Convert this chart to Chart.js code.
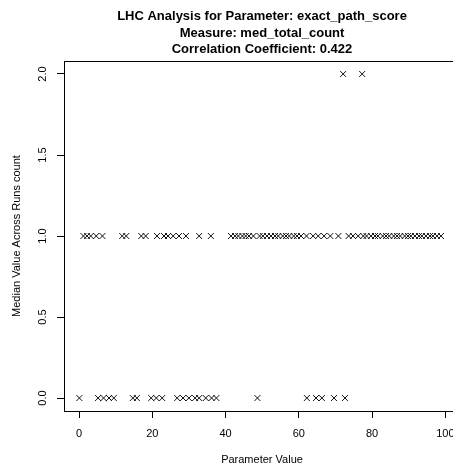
<!DOCTYPE html>
<html>
<head>
<meta charset="utf-8">
<script src="https://cdn.jsdelivr.net/npm/chart.js@4/dist/chart.umd.min.js"></script>
<style>
  html, body { margin: 0; padding: 0; background: #fff; overflow: hidden; }
  #wrap { position: relative; width: 480px; height: 469px; }
</style>
</head>
<body>
<div id="wrap"><canvas id="lhc-plot"></canvas></div>
<script>
// parameter values, grouped by the median count they landed on
const xAtZero = [0.1, 5.2, 6.7, 8.2, 9.5, 14.7, 15.8, 19.7, 21.1, 22.7, 26.8, 28.4, 30.0,
  31.7, 32.8, 34.6, 36.2, 37.5, 48.7, 62.2, 64.7, 66.3, 69.6, 72.6];
const xAtOne = [1.2, 2.2, 3.2, 4.7, 6.4, 11.8, 12.9, 17.0, 18.2, 21.3, 23.2, 24.3, 25.7,
  27.3, 29.2, 32.8, 36.0, 41.5, 42.6, 43.5, 44.6, 45.5, 46.4, 47.6, 49.3, 50.2, 51.3,
  52.4, 53.5, 54.4, 55.6, 56.5, 57.4, 58.6, 59.5, 60.6, 62.1, 63.9, 65.3, 66.9, 68.6,
  70.8, 73.6, 74.8, 76.2, 77.6, 78.5, 79.7, 80.8, 81.6, 82.9, 83.8, 84.7, 85.9, 86.8,
  87.7, 88.9, 89.8, 90.6, 91.7, 92.8, 93.6, 94.7, 95.8, 96.6, 97.7, 98.8];
const xAtTwo = [72.1, 77.3];

const xTicks = [0, 20, 40, 60, 80, 100];
const yTicks = [0, 0.5, 1, 1.5, 2];

const titleLines = [
  "LHC Analysis for Parameter: exact_path_score",
  "Measure: med_total_count",
  "Correlation Coefficient: 0.422",
];

const points = [
  ...xAtZero.map((x) => ({ x, y: 0 })),
  ...xAtOne.map((x) => ({ x, y: 1 })),
  ...xAtTwo.map((x) => ({ x, y: 2 })),
];

Chart.defaults.font.family = "'Liberation Sans', Arial, Helvetica, sans-serif";
Chart.defaults.font.size = 11;
Chart.defaults.color = "#000";

// R draws a full box round the plot region
const boxPlugin = {
  id: "plotBox",
  afterDraw(chart) {
    const { ctx, chartArea: a } = chart;
    ctx.save();
    ctx.strokeStyle = "#000";
    ctx.lineWidth = 1;
    ctx.strokeRect(Math.round(a.left) + 0.5, Math.round(a.top) + 0.5,
      Math.round(a.right - a.left), Math.round(a.bottom - a.top));
    ctx.restore();
  },
};

new Chart(document.querySelector("#lhc-plot"), {
  type: "scatter",
  data: {
    datasets: [
      {
        data: points,
        pointStyle: "crossRot",
        pointRadius: 4.2,
        pointHoverRadius: 4.2,
        borderColor: "#111",
        backgroundColor: "#111",
        pointBorderWidth: 1,
      },
    ],
  },
  options: {
    animation: false,
    responsive: true,
    maintainAspectRatio: false,
    layout: { padding: { top: 0, left: 0, right: 20, bottom: 0 } },
    plugins: {
      legend: { display: false },
      tooltip: { enabled: false },
      title: {
        display: true,
        fullSize: false,
        text: titleLines,
        font: { size: 13, weight: "bold", lineHeight: 1.27 },
        padding: { top: 8.5, bottom: 3 },
        color: "#000",
      },
    },
    scales: {
      x: {
        type: "linear",
        min: -4.095,
        max: 104.0,
        afterBuildTicks: (scale) => { scale.ticks = xTicks.map((value) => ({ value })); },
        afterFit: (scale) => { scale.height = 58; },
        grid: { drawOnChartArea: false, drawTicks: true, tickLength: 7, color: "#000" },
        border: { display: true, color: "#000" },
        ticks: { padding: 9, maxRotation: 0, autoSkip: false, callback: (v) => String(v) },
        title: {
          display: true,
          text: "Parameter Value",
          font: { size: 11 },
          padding: { top: 0, bottom: 2.4 },
        },
      },
      y: {
        type: "linear",
        min: -0.08,
        max: 2.08,
        afterBuildTicks: (scale) => { scale.ticks = yTicks.map((value) => ({ value })); },
        afterFit: (scale) => { scale.width = 64; },
        grid: { drawOnChartArea: false, drawTicks: true, tickLength: 7, color: "#000" },
        border: { display: true, color: "#000" },
        ticks: {
          minRotation: 90,
          maxRotation: 90,
          crossAlign: "center",
          padding: 6,
          autoSkip: false,
          callback: (v) => Number(v).toFixed(1),
        },
        title: {
          display: true,
          text: "Median Value Across Runs count",
          font: { size: 11 },
          padding: { top: 10, bottom: 0 },
        },
      },
    },
  },
  plugins: [boxPlugin],
});
</script>
</body>
</html>
